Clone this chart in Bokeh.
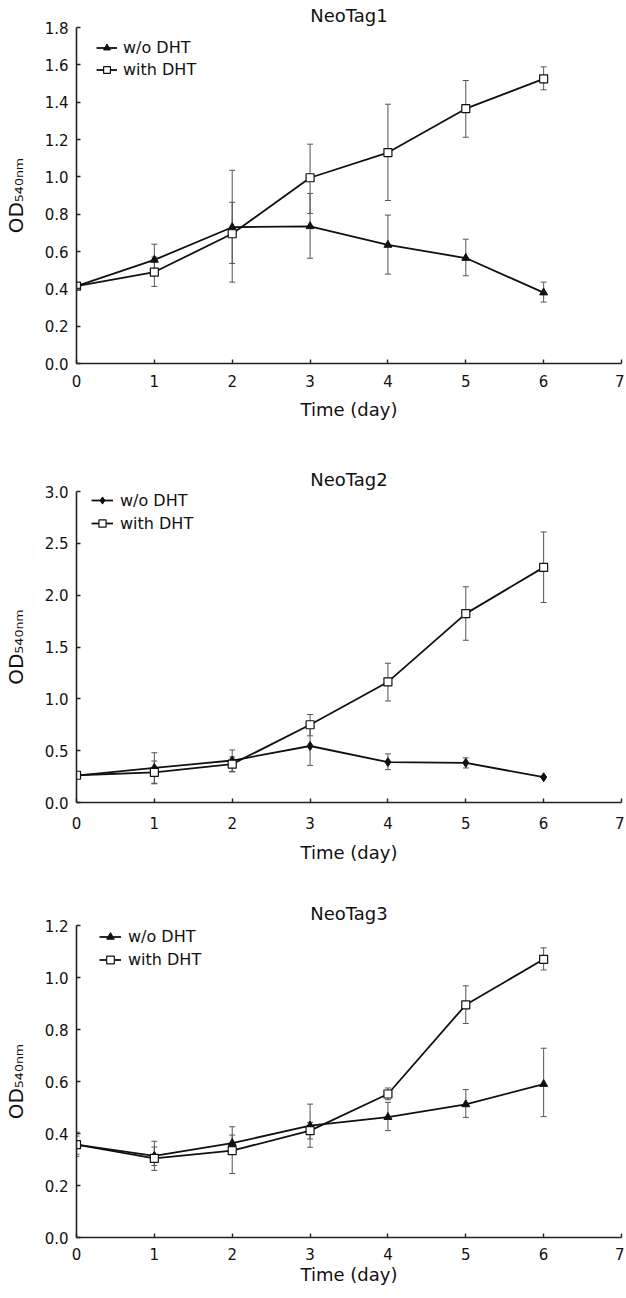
from bokeh.plotting import figure
from bokeh.models import (Range1d, FixedTicker, Whisker, TeeHead, ColumnDataSource,
                          Legend, LegendItem, NumeralTickFormatter)
from bokeh.layouts import column
from bokeh.embed import file_html
from bokeh.resources import INLINE

# ---------------- data ----------------
days = [0, 1, 2, 3, 4, 5, 6]
x_ticks = [0, 1, 2, 3, 4, 5, 6, 7]
series_labels = ["w/o DHT", "with DHT"]
x_label = "Time (day)"
y_label = "OD\u2085\u2084\u2080\u2099\u2098"

nt1_title = "NeoTag1"
nt1_wo = [0.415, 0.555, 0.73, 0.735, 0.635, 0.565, 0.38]
nt1_wo_lo = [0.415, 0.475, 0.536, 0.564, 0.479, 0.470, 0.329]
nt1_wo_hi = [0.415, 0.639, 0.864, 0.911, 0.795, 0.666, 0.436]
nt1_with = [0.415, 0.49, 0.695, 0.995, 1.13, 1.365, 1.525]
nt1_with_lo = [0.415, 0.413, 0.436, 0.804, 0.873, 1.212, 1.466]
nt1_with_hi = [0.415, 0.57, 1.035, 1.175, 1.389, 1.516, 1.589]
nt1_yticks = [0.0, 0.2, 0.4, 0.6, 0.8, 1.0, 1.2, 1.4, 1.6, 1.8]

nt2_title = "NeoTag2"
nt2_wo = [0.26, 0.333, 0.405, 0.545, 0.39, 0.383, 0.244]
nt2_wo_lo = [0.26, 0.186, 0.30, 0.358, 0.317, 0.333, 0.244]
nt2_wo_hi = [0.26, 0.48, 0.507, 0.73, 0.469, 0.431, 0.244]
nt2_with = [0.263, 0.29, 0.37, 0.75, 1.163, 1.822, 2.268]
nt2_with_lo = [0.263, 0.18, 0.295, 0.643, 0.979, 1.565, 1.929]
nt2_with_hi = [0.263, 0.40, 0.44, 0.849, 1.343, 2.081, 2.61]
nt2_yticks = [0.0, 0.5, 1.0, 1.5, 2.0, 2.5, 3.0]

nt3_title = "NeoTag3"
nt3_wo = [0.357, 0.314, 0.363, 0.43, 0.463, 0.512, 0.59]
nt3_wo_lo = [0.312, 0.258, 0.332, 0.347, 0.411, 0.462, 0.465]
nt3_wo_hi = [0.405, 0.37, 0.394, 0.513, 0.52, 0.569, 0.728]
nt3_with = [0.357, 0.304, 0.334, 0.411, 0.552, 0.895, 1.07]
nt3_with_lo = [0.32, 0.277, 0.246, 0.379, 0.53, 0.823, 1.029]
nt3_with_hi = [0.39, 0.348, 0.426, 0.443, 0.575, 0.968, 1.114]
nt3_yticks = [0.0, 0.2, 0.4, 0.6, 0.8, 1.0, 1.2]

FONT = "DejaVu Sans"
INK = "#111111"
ERR = "#555555"


def make_panel(title, wo, wo_lo, wo_hi, wi, wi_lo, wi_hi, yticks, wo_marker,
               frame_h, b_bottom, title_standoff, xl_standoff, xa_standoff,
               leg_x, leg_top, leg_h, leg_sp, leg_gw, leg_ls):
    p = figure(frame_width=545, frame_height=frame_h,
               x_range=Range1d(0, x_ticks[-1]), y_range=Range1d(0, yticks[-1]),
               output_backend="svg", toolbar_location=None,
               min_border_left=70, min_border_right=3, min_border_top=25,
               min_border_bottom=b_bottom)
    p.background_fill_color = "white"
    p.border_fill_color = "white"
    p.outline_line_color = None
    p.xgrid.visible = False
    p.ygrid.visible = False

    p.title.text = title
    p.title.align = "center"
    p.title.text_font = FONT
    p.title.text_font_size = "18px"
    p.title.text_font_style = "normal"
    p.title.text_color = INK
    p.title.standoff = title_standoff

    for ax in (p.xaxis[0], p.yaxis[0]):
        ax.axis_line_color = "#222222"
        ax.axis_line_width = 1.6
        ax.major_tick_line_color = "#222222"
        ax.major_tick_line_width = 1.4
        ax.major_tick_in = 4
        ax.major_tick_out = 0
        ax.minor_tick_line_color = None
        ax.major_label_text_font = FONT
        ax.major_label_text_font_size = "15px"
        ax.major_label_text_color = INK
        ax.axis_label_text_font = FONT
        ax.axis_label_text_font_style = "normal"
        ax.axis_label_text_color = INK

    p.xaxis.ticker = FixedTicker(ticks=x_ticks)
    p.yaxis.ticker = FixedTicker(ticks=yticks)
    p.yaxis.formatter = NumeralTickFormatter(format="0.0")
    p.xaxis.axis_label = x_label
    p.xaxis.axis_label_text_font_size = "18px"
    p.xaxis.major_label_standoff = xl_standoff
    p.xaxis.axis_label_standoff = xa_standoff
    p.yaxis.axis_label = y_label
    p.yaxis.axis_label_text_font_size = "20px"
    p.yaxis.major_label_standoff = 8
    p.yaxis.axis_label_standoff = 14

    for lo, hi in ((wo_lo, wo_hi), (wi_lo, wi_hi)):
        src = ColumnDataSource(dict(x=days, lo=lo, hi=hi))
        w = Whisker(source=src, base="x", lower="lo", upper="hi", dimension="height",
                    line_color=ERR, line_width=1,
                    upper_head=TeeHead(size=6, line_color=ERR, line_width=1),
                    lower_head=TeeHead(size=6, line_color=ERR, line_width=1),
                    level="underlay")
        p.add_layout(w)

    r1 = p.line(days, wo, line_color=INK, line_width=1.8)
    m1 = p.scatter(days, wo, marker=wo_marker, size=9 if wo_marker == "diamond" else 8,
                   fill_color=INK, line_color=INK)
    r2 = p.line(days, wi, line_color=INK, line_width=1.8)
    m2 = p.scatter(days, wi, marker="square", size=8, fill_color="white",
                   line_color=INK, line_width=1.2)

    leg_height = 2 * leg_h + leg_sp
    vy = frame_h - leg_top - leg_height
    legend = Legend(items=[LegendItem(label=series_labels[0], renderers=[r1, m1]),
                           LegendItem(label=series_labels[1], renderers=[r2, m2])],
                    location=(leg_x, vy), padding=0, margin=0, spacing=leg_sp,
                    glyph_height=leg_h, glyph_width=leg_gw, label_height=leg_h,
                    label_standoff=leg_ls, label_text_font=FONT,
                    label_text_font_size="16px", label_text_color=INK,
                    background_fill_alpha=0, border_line_alpha=0)
    p.add_layout(legend)
    return p


p1 = make_panel(nt1_title, nt1_wo, nt1_wo_lo, nt1_wo_hi, nt1_with, nt1_with_lo, nt1_with_hi,
                nt1_yticks, "triangle", 336, 101, 4, 11, 9,
                20, 14.8, 17, 3, 21, 6)
p2 = make_panel(nt2_title, nt2_wo, nt2_wo_lo, nt2_wo_hi, nt2_with, nt2_with_lo, nt2_with_hi,
                nt2_yticks, "diamond", 311, 96, 4, 14, 10,
                15, 1.5, 18, 4, 22, 7)
p3 = make_panel(nt3_title, nt3_wo, nt3_wo_lo, nt3_wo_hi, nt3_with, nt3_with_lo, nt3_with_hi,
                nt3_yticks, "triangle", 312, 51, 4, 10, 1,
                23, 1.5, 19, 4, 22, 7)

layout = column(p1, p2, p3, spacing=0)
open("out.html", "w").write(file_html(layout, INLINE))
